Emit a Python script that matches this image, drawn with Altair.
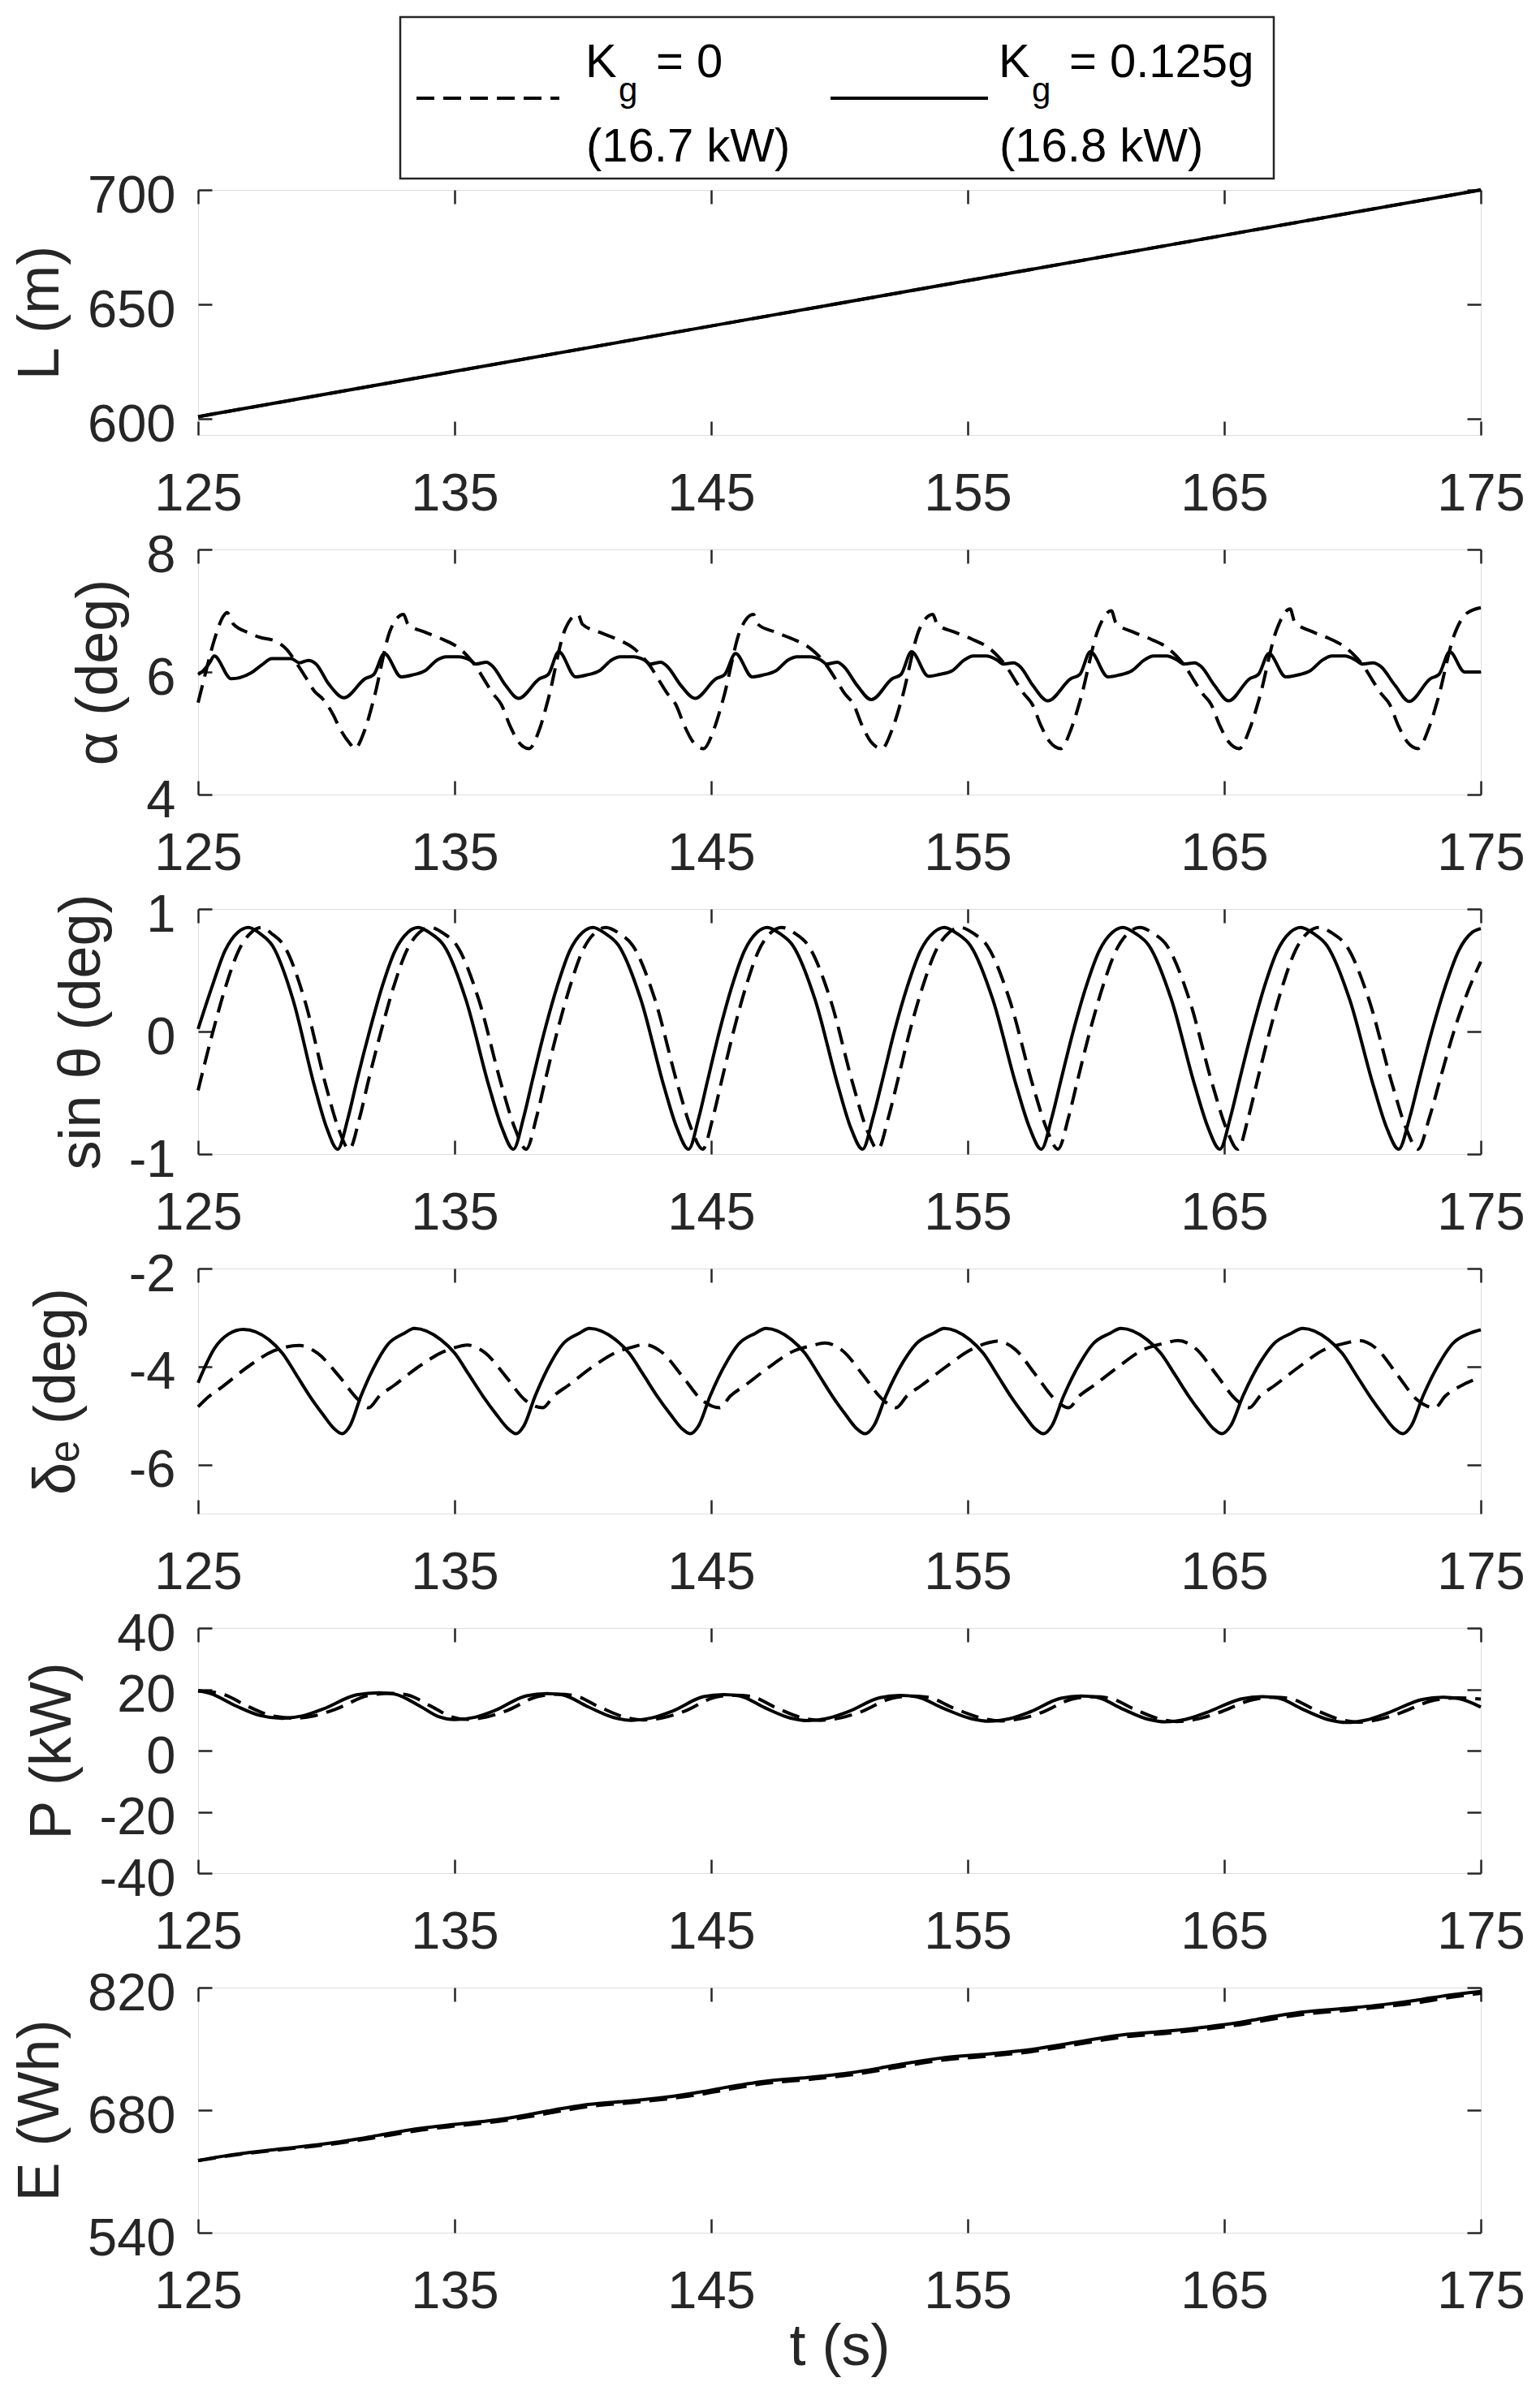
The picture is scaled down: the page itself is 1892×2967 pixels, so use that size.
import altair as alt
import pandas as pd

FONT = "Liberation Sans"
INK = "#262626"
PLOT_W, PLOT_H = 1580, 302
TICK_LEN = 17
LINE_W = 4
DASH = [22, 11]

T_RANGE = [125, 175]
T_TICKS = [125, 135, 145, 155, 165, 175]

# ---------------- data: (t [s], value) ----------------
L_K0 = [(125, 601), (135, 620.8), (145, 640.6), (155, 660.4), (165, 680.2), (175, 700)]
L_K125 = [(125, 601), (135, 620.8), (145, 640.6), (155, 660.4), (165, 680.2), (175, 700)]

ALPHA_K0 = [
    (125.0, 5.5), (125.3, 6.0), (125.63, 6.52), (126.0, 6.92), (126.13, 6.97), (126.38, 6.78), (127.04, 6.63),
    (127.37, 6.57), (128.03, 6.5), (128.45, 6.37), (128.86, 6.13), (129.2, 5.91), (129.53, 5.69), (129.86, 5.56),
    (130.27, 5.3), (130.52, 5.08), (130.94, 4.82), (131.1, 4.75),
    (131.52, 5.08), (131.85, 5.56), (132.51, 6.7), (133.01, 6.94), (133.18, 6.78), (133.84, 6.65), (134.5, 6.54),
    (135.17, 6.39), (135.5, 6.26), (135.83, 6.09), (136.16, 5.87), (136.49, 5.65), (136.82, 5.47), (137.16, 5.12),
    (137.49, 4.86), (137.9, 4.75),
    (138.32, 5.08), (138.65, 5.56), (139.31, 6.7), (139.81, 6.94), (139.98, 6.78), (140.64, 6.65), (141.3, 6.54),
    (141.97, 6.39), (142.3, 6.26), (142.63, 6.09), (142.96, 5.87), (143.29, 5.65), (143.62, 5.47), (143.96, 5.12),
    (144.29, 4.86), (144.7, 4.75),
    (145.12, 5.08), (145.47, 5.56), (146.15, 6.7), (146.65, 6.94), (146.82, 6.78), (147.5, 6.65), (148.17, 6.54),
    (148.85, 6.39), (149.2, 6.26), (149.53, 6.09), (149.87, 5.87), (150.2, 5.65), (150.55, 5.47), (150.89, 5.12),
    (151.23, 4.86), (151.65, 4.75),
    (152.07, 5.08), (152.43, 5.56), (153.12, 6.7), (153.64, 6.94), (153.81, 6.78), (154.49, 6.65), (155.15, 6.54),
    (155.83, 6.39), (156.17, 6.26), (156.51, 6.09), (156.84, 5.87), (157.18, 5.65), (157.52, 5.47), (157.86, 5.12),
    (158.2, 4.86), (158.62, 4.75),
    (159.04, 5.08), (159.4, 5.56), (160.09, 6.7), (160.6, 7.0), (160.78, 6.8), (161.46, 6.65), (162.12, 6.54),
    (162.8, 6.39), (163.14, 6.26), (163.48, 6.09), (163.81, 5.87), (164.15, 5.65), (164.49, 5.47), (164.83, 5.12),
    (165.17, 4.86), (165.58, 4.75),
    (166.0, 5.08), (166.36, 5.56), (167.05, 6.7), (167.57, 7.03), (167.74, 6.82), (168.42, 6.66), (169.08, 6.55),
    (169.76, 6.39), (170.1, 6.26), (170.44, 6.09), (170.77, 5.87), (171.11, 5.65), (171.45, 5.47), (171.79, 5.12),
    (172.13, 4.86), (172.55, 4.75),
    (172.97, 5.08), (173.33, 5.56), (173.96, 6.6), (174.46, 6.96), (175.0, 7.05),
]
ALPHA_K125 = [
    (125.0, 5.96), (125.2, 6.02), (125.45, 6.15), (125.63, 6.26), (126.29, 5.89), (127.04, 5.98), (127.5, 6.12),
    (127.87, 6.22), (128.62, 6.22), (128.95, 6.15), (129.3, 6.19), (129.6, 6.13), (130.1, 5.8), (130.69, 5.58),
    (131.51, 5.89), (131.85, 5.96), (132.26, 6.3), (132.92, 5.92), (133.34, 5.95), (133.84, 6.02), (134.33, 6.2),
    (134.67, 6.25), (135.16, 6.25), (135.58, 6.2), (135.83, 6.13), (136.24, 6.16), (136.49, 6.09), (136.99, 5.78),
    (137.49, 5.57),
    (138.31, 5.89), (138.65, 5.96), (139.06, 6.33), (139.72, 5.92), (140.14, 5.95), (140.64, 6.02), (141.13, 6.2),
    (141.47, 6.25), (141.96, 6.25), (142.38, 6.2), (142.63, 6.13), (143.04, 6.16), (143.29, 6.09), (143.82, 5.78),
    (144.37, 5.57),
    (145.19, 5.89), (145.53, 5.96), (145.95, 6.3), (146.6, 5.92), (147.02, 5.95), (147.52, 6.02), (148.01, 6.2),
    (148.35, 6.25), (148.84, 6.25), (149.26, 6.2), (149.51, 6.13), (149.92, 6.16), (150.17, 6.09), (150.69, 5.78),
    (151.24, 5.55),
    (152.06, 5.89), (152.4, 5.96), (152.81, 6.33), (153.47, 5.93), (153.89, 5.96), (154.39, 6.02), (154.88, 6.2),
    (155.22, 6.26), (155.71, 6.26), (156.13, 6.2), (156.38, 6.13), (156.79, 6.15), (157.04, 6.09), (157.54, 5.78),
    (158.12, 5.53),
    (159.02, 5.89), (159.37, 5.96), (159.78, 6.33), (160.47, 5.92), (160.9, 5.95), (161.4, 6.02), (161.9, 6.2),
    (162.25, 6.26), (162.75, 6.26), (163.15, 6.2), (163.42, 6.13), (163.85, 6.15), (164.1, 6.09), (164.62, 5.78),
    (165.17, 5.53),
    (165.99, 5.89), (166.33, 5.96), (166.74, 6.3), (167.4, 5.92), (167.85, 5.95), (168.35, 6.02), (168.85, 6.2),
    (169.2, 6.26), (169.7, 6.26), (170.1, 6.2), (170.38, 6.13), (170.8, 6.15), (171.1, 6.09), (171.66, 5.78),
    (172.21, 5.52),
    (173.03, 5.89), (173.37, 5.96), (173.79, 6.33), (174.37, 6.0), (175.0, 6.0),
]

SIN_K0 = [
    (125.0, -0.48), (125.58, 0.0), (126.08, 0.37), (126.58, 0.66), (127.08, 0.81), (127.49, 0.85),
    (127.86, 0.80), (128.35, 0.70), (129.15, 0.26), (129.98, -0.44), (130.47, -0.79), (130.89, -0.96),
    (131.3, -0.70), (131.64, -0.40), (132.13, 0.0), (132.63, 0.37), (133.13, 0.66), (133.63, 0.81), (134.04, 0.85),
    (134.57, 0.80), (135.09, 0.70), (135.94, 0.26), (136.83, -0.44), (137.35, -0.79), (137.79, -0.96),
    (138.19, -0.70), (138.53, -0.40), (139.0, 0.0), (139.5, 0.37), (139.99, 0.66), (140.49, 0.81), (140.89, 0.85),
    (141.42, 0.80), (141.95, 0.70), (142.81, 0.26), (143.7, -0.44), (144.22, -0.79), (144.67, -0.96),
    (145.07, -0.70), (145.41, -0.40), (145.87, 0.0), (146.36, 0.37), (146.85, 0.66), (147.34, 0.81), (147.74, 0.85),
    (148.27, 0.80), (148.79, 0.70), (149.65, 0.26), (150.54, -0.44), (151.05, -0.79), (151.5, -0.96),
    (151.91, -0.70), (152.27, -0.40), (152.74, 0.0), (153.25, 0.37), (153.76, 0.66), (154.28, 0.81), (154.69, 0.85),
    (155.23, 0.80), (155.76, 0.70), (156.63, 0.26), (157.54, -0.44), (158.07, -0.79), (158.52, -0.96),
    (158.93, -0.70), (159.28, -0.40), (159.76, 0.0), (160.27, 0.37), (160.78, 0.66), (161.29, 0.81), (161.7, 0.85),
    (162.24, 0.80), (162.77, 0.70), (163.64, 0.26), (164.55, -0.44), (165.08, -0.79), (165.53, -0.96),
    (165.94, -0.70), (166.29, -0.40), (166.77, 0.0), (167.27, 0.37), (167.77, 0.66), (168.27, 0.81), (168.68, 0.85),
    (169.23, 0.80), (169.76, 0.70), (170.64, 0.26), (171.56, -0.44), (172.09, -0.79), (172.55, -0.96),
    (173.0, -0.70), (173.4, -0.40), (173.95, 0.0), (174.5, 0.33), (175.0, 0.57),
]
SIN_K125 = [
    (125.0, 0.02), (125.55, 0.37), (126.05, 0.66), (126.55, 0.81), (126.96, 0.85),
    (127.41, 0.80), (127.9, 0.70), (128.7, 0.26), (129.53, -0.44), (130.02, -0.79), (130.44, -0.96),
    (130.85, -0.70), (131.19, -0.40), (131.68, 0.0), (132.18, 0.37), (132.68, 0.66), (133.18, 0.81), (133.59, 0.85),
    (134.07, 0.80), (134.59, 0.70), (135.44, 0.26), (136.33, -0.44), (136.85, -0.79), (137.29, -0.96),
    (137.69, -0.70), (138.03, -0.40), (138.5, 0.0), (139.0, 0.37), (139.49, 0.66), (139.99, 0.81), (140.39, 0.85),
    (140.87, 0.80), (141.4, 0.70), (142.26, 0.26), (143.15, -0.44), (143.67, -0.79), (144.12, -0.96),
    (144.52, -0.70), (144.86, -0.40), (145.32, 0.0), (145.81, 0.37), (146.3, 0.66), (146.79, 0.81), (147.19, 0.85),
    (147.67, 0.80), (148.19, 0.70), (149.05, 0.26), (149.94, -0.44), (150.45, -0.79), (150.9, -0.96),
    (151.31, -0.70), (151.67, -0.40), (152.14, 0.0), (152.65, 0.37), (153.16, 0.66), (153.68, 0.81), (154.09, 0.85),
    (154.58, 0.80), (155.11, 0.70), (155.98, 0.26), (156.89, -0.44), (157.42, -0.79), (157.87, -0.96),
    (158.28, -0.70), (158.63, -0.40), (159.11, 0.0), (159.62, 0.37), (160.13, 0.66), (160.64, 0.81), (161.05, 0.85),
    (161.54, 0.80), (162.07, 0.70), (162.94, 0.26), (163.85, -0.44), (164.38, -0.79), (164.83, -0.96),
    (165.24, -0.70), (165.59, -0.40), (166.07, 0.0), (166.57, 0.37), (167.07, 0.66), (167.57, 0.81), (167.98, 0.85),
    (168.48, 0.80), (169.01, 0.70), (169.89, 0.26), (170.81, -0.44), (171.34, -0.79), (171.8, -0.96),
    (172.23, -0.70), (172.59, -0.40), (173.09, 0.0), (173.62, 0.37), (174.14, 0.66), (174.67, 0.81), (175.0, 0.84),
]

DELTA_K0 = [
    (125.0, -4.82), (125.4, -4.62), (125.95, -4.41), (126.9, -4.02), (127.95, -3.68), (128.95, -3.57),
    (129.66, -3.73), (130.5, -4.2), (131.25, -4.68), (131.65, -4.84),
    (132.07, -4.6), (132.65, -4.38), (133.55, -4.02), (134.55, -3.7), (135.1, -3.6), (135.49, -3.56),
    (136.19, -3.72), (136.99, -4.2), (137.74, -4.68), (138.44, -4.84),
    (138.86, -4.6), (139.44, -4.38), (140.34, -4.02), (141.34, -3.7), (141.95, -3.6), (142.38, -3.55),
    (143.08, -3.71), (143.88, -4.2), (144.63, -4.68), (145.33, -4.84),
    (145.75, -4.6), (146.33, -4.38), (147.23, -4.02), (148.23, -3.68), (148.95, -3.57), (149.43, -3.52),
    (150.13, -3.68), (150.93, -4.18), (151.68, -4.67), (152.21, -4.84),
    (152.63, -4.6), (153.21, -4.38), (154.11, -4.02), (155.11, -3.66), (155.7, -3.53), (156.15, -3.48),
    (156.85, -3.65), (157.65, -4.17), (158.4, -4.67), (158.93, -4.84),
    (159.35, -4.6), (159.93, -4.38), (160.83, -4.02), (161.83, -3.66), (162.7, -3.52), (163.2, -3.47),
    (163.9, -3.64), (164.7, -4.17), (165.45, -4.67), (165.98, -4.84),
    (166.4, -4.6), (166.98, -4.38), (167.88, -4.02), (168.88, -3.66), (169.75, -3.52), (170.25, -3.47),
    (170.95, -3.64), (171.75, -4.17), (172.5, -4.67), (173.2, -4.84),
    (173.62, -4.6), (174.2, -4.4), (175.0, -4.22),
]
DELTA_K125 = [
    (125.0, -4.33), (125.65, -3.62), (126.18, -3.34), (126.76, -3.24),
    (127.76, -3.45), (128.29, -3.73), (128.82, -4.16), (129.35, -4.6), (129.87, -4.98), (130.29, -5.26), (130.61, -5.37),
    (130.93, -5.2), (131.35, -4.6), (131.98, -3.89), (132.41, -3.54), (133.04, -3.32), (133.43, -3.22),
    (134.46, -3.45), (135.01, -3.73), (135.55, -4.16), (136.1, -4.6), (136.63, -4.98), (137.07, -5.26), (137.39, -5.37),
    (137.71, -5.2), (138.14, -4.6), (138.78, -3.89), (139.22, -3.54), (139.86, -3.32), (140.25, -3.22),
    (141.27, -3.45), (141.81, -3.73), (142.35, -4.16), (142.89, -4.6), (143.42, -4.98), (143.85, -5.26), (144.18, -5.37),
    (144.52, -5.2), (144.96, -4.6), (145.62, -3.89), (146.07, -3.54), (146.73, -3.32), (147.13, -3.22),
    (148.13, -3.45), (148.66, -3.73), (149.19, -4.16), (149.72, -4.6), (150.24, -4.98), (150.66, -5.26), (151.0, -5.37),
    (151.35, -5.2), (151.81, -4.6), (152.5, -3.89), (152.98, -3.54), (153.67, -3.32), (154.08, -3.22),
    (155.08, -3.45), (155.61, -3.73), (156.14, -4.16), (156.67, -4.6), (157.19, -4.98), (157.61, -5.26), (157.95, -5.37),
    (158.29, -5.2), (158.74, -4.6), (159.42, -3.89), (159.88, -3.54), (160.55, -3.32), (160.97, -3.22),
    (161.99, -3.45), (162.53, -3.73), (163.07, -4.16), (163.61, -4.6), (164.14, -4.98), (164.57, -5.26), (164.9, -5.37),
    (165.26, -5.2), (165.73, -4.6), (166.43, -3.89), (166.92, -3.54), (167.62, -3.32), (168.05, -3.22),
    (169.06, -3.45), (169.6, -3.73), (170.13, -4.16), (170.67, -4.6), (171.19, -4.98), (171.62, -5.26), (171.95, -5.37),
    (172.3, -5.2), (172.75, -4.6), (173.43, -3.89), (173.89, -3.54), (174.57, -3.32), (175.0, -3.25),
]

P_K0 = [
    (125.0, 19.4), (125.5, 19.2), (126.0, 18.3), (127.0, 14.2), (127.9, 11.3), (128.75, 10.6),
    (129.55, 11.4), (130.35, 13.5), (131.65, 18.0), (132.5, 18.7), (133.1, 18.3), (134.1, 14.4), (134.85, 11.1),
    (135.45, 10.2), (136.25, 11.0), (137.05, 13.1), (138.25, 17.7), (139.05, 18.4), (139.65, 18.0), (140.65, 14.2),
    (141.65, 10.9), (142.35, 10.0), (143.15, 10.8), (143.95, 12.8), (145.15, 17.4), (145.95, 18.1), (146.55, 17.7),
    (147.55, 13.9), (148.55, 10.7), (149.25, 9.9), (150.05, 10.7), (150.85, 12.7), (152.05, 17.1), (152.85, 17.8),
    (153.45, 17.4), (154.5, 13.7), (155.6, 10.5), (156.3, 9.7), (157.1, 10.5), (157.9, 12.5), (159.1, 16.9),
    (159.9, 17.6), (160.5, 17.2), (161.5, 13.5), (162.5, 10.3), (163.15, 9.5), (163.95, 10.3), (164.75, 12.3),
    (166.15, 16.7), (166.95, 17.4), (167.55, 17.0), (168.55, 13.3), (169.55, 10.1), (170.2, 9.3), (171.0, 10.1),
    (171.8, 12.1), (173.2, 16.5), (174.1, 17.2), (175.0, 16.8),
]
P_K125 = [
    (125.0, 19.6), (125.5, 18.6), (126.5, 14.5), (127.4, 11.5), (128.28, 10.55), (129.08, 11.35), (129.88, 13.6),
    (131.18, 18.2), (132.05, 18.9), (132.65, 18.5), (133.65, 14.5), (134.4, 11.0), (135.0, 10.1), (135.8, 10.9),
    (136.6, 13.2), (137.8, 17.9), (138.6, 18.6), (139.2, 18.2), (140.2, 14.3), (141.2, 10.8), (141.89, 9.9),
    (142.69, 10.7), (143.49, 12.9), (144.7, 17.6), (145.49, 18.3), (146.09, 17.9), (147.09, 14.0), (148.1, 10.6),
    (148.77, 9.8), (149.57, 10.6), (150.37, 12.8), (151.58, 17.3), (152.38, 18.0), (152.98, 17.6), (154.05, 13.8),
    (155.15, 10.4), (155.82, 9.6), (156.62, 10.4), (157.42, 12.6), (158.63, 17.1), (159.43, 17.8), (160.03, 17.4),
    (161.03, 13.6), (162.05, 10.2), (162.7, 9.4), (163.5, 10.2), (164.3, 12.4), (165.68, 16.9), (166.48, 17.6),
    (167.08, 17.2), (168.08, 13.4), (169.1, 10.0), (169.75, 9.2), (170.55, 10.0), (171.35, 12.2), (172.72, 16.7),
    (173.52, 17.4), (174.12, 17.0), (175.0, 14.2),
]

E_K0 = [
    (125.0, 622.3), (126.5, 629.0), (128.28, 635.0), (129.88, 640.0), (131.18, 645.2), (132.05, 649.3),
    (133.65, 657.0), (135.0, 661.8), (136.6, 666.8), (137.8, 672.0), (138.6, 676.2), (140.2, 684.0), (141.89, 688.6),
    (143.49, 693.5), (144.7, 698.6), (145.49, 702.8), (147.09, 710.5), (148.77, 715.0), (150.37, 720.0),
    (151.58, 725.4), (152.38, 729.6), (154.05, 737.2), (155.82, 741.8), (157.42, 746.6), (158.63, 751.9),
    (159.43, 755.9), (161.03, 763.4), (162.7, 767.7), (164.3, 772.6), (165.68, 777.9), (166.48, 782.0),
    (168.08, 789.5), (169.75, 793.9), (171.35, 798.6), (172.72, 803.6), (173.52, 807.6), (175.0, 813.5),
]
E_K125 = [
    (125.0, 622.5), (126.5, 629.8), (128.28, 636.0), (129.88, 641.2), (131.18, 646.9), (132.05, 651.4),
    (133.65, 659.2), (135.0, 663.7), (136.6, 668.8), (137.8, 674.5), (138.6, 678.8), (140.2, 686.4), (141.89, 690.7),
    (143.49, 695.8), (144.7, 701.3), (145.49, 705.6), (147.09, 713.0), (148.77, 717.3), (150.37, 722.4),
    (151.58, 728.1), (152.38, 732.4), (154.05, 739.9), (155.82, 744.2), (157.42, 749.1), (158.63, 754.6),
    (159.43, 758.7), (161.03, 766.0), (162.7, 770.1), (164.3, 775.1), (165.68, 780.6), (166.48, 784.8),
    (168.08, 792.1), (169.75, 796.3), (171.35, 801.1), (172.72, 806.6), (173.52, 810.4), (175.0, 815.5),
]

Y_TITLES = ["L (m)", "α (deg)", "sin θ (deg)", "δₑ (deg)", "P (kW)", "E (Wh)"]
Y_DOMAINS = [[593, 700], [4, 8], [-1, 1], [-7, -2], [-40, 40], [540, 820]]
Y_TICKS = [[600, 650, 700], [4, 6, 8], [-1, 0, 1], [-6, -4, -2], [-40, -20, 0, 20, 40], [540, 680, 820]]
X_TITLE = "t (s)"

LEGEND_MAIN = ["K", "K"]
LEGEND_SUB = ["g", "g"]
LEGEND_EQ = ["= 0", "= 0.125g"]
LEGEND_POWER = ["(16.7 kW)", "(16.8 kW)"]

NEG_EXPR = "datum.value < 0 ? '-' + format(-datum.value, 'd') : format(datum.value, 'd')"


def frame(pairs):
    return pd.DataFrame(pairs, columns=["t", "v"])


def legend_layers():
    one = pd.DataFrame({"k": [0]})
    layers = [
        alt.Chart(one).mark_rect(fill="white", stroke=INK, strokeWidth=2.5).encode(
            x=alt.value(249), x2=alt.value(1325), y=alt.value(-213), y2=alt.value(-14)),
        alt.Chart(one).mark_rule(color="black", strokeWidth=LINE_W, strokeDash=DASH).encode(
            x=alt.value(269), x2=alt.value(445), y=alt.value(-113)),
        alt.Chart(one).mark_rule(color="black", strokeWidth=LINE_W).encode(
            x=alt.value(779), x2=alt.value(973), y=alt.value(-113)),
    ]
    starts = [477, 986]
    for i, x0 in enumerate(starts):
        big = dict(align="left", baseline="alphabetic", font=FONT, fontSize=58, color="black")
        layers.append(alt.Chart(one).mark_text(text=LEGEND_MAIN[i], **big).encode(
            x=alt.value(x0), y=alt.value(-139)))
        layers.append(alt.Chart(one).mark_text(text=LEGEND_SUB[i], align="left", baseline="alphabetic",
                                               font=FONT, fontSize=42, color="black").encode(
            x=alt.value(x0 + 41), y=alt.value(-109)))
        layers.append(alt.Chart(one).mark_text(text=LEGEND_EQ[i], **big).encode(
            x=alt.value(x0 + 87), y=alt.value(-139)))
        layers.append(alt.Chart(one).mark_text(text=LEGEND_POWER[i], **big).encode(
            x=alt.value(x0 + 1), y=alt.value(-35)))
    return layers


def panel(k0, k125, idx, interp="monotone", x_title=None, title_pad=21, legend=False):
    xs = alt.Scale(domain=T_RANGE, nice=False, zero=False)
    ys = alt.Scale(domain=Y_DOMAINS[idx], nice=False, zero=False)
    common = dict(offset=-TICK_LEN, tickSize=TICK_LEN, tickWidth=2.5, tickColor=INK, domain=False, grid=False)
    ax_bottom = alt.Axis(orient="bottom", values=T_TICKS, labelFont=FONT, labelFontSize=65, labelColor=INK,
                         labelPadding=41, labelFlush=False, labelOverlap=False, format="d",
                         titleFont=FONT, titleFontSize=72, titleFontWeight="normal", titleColor=INK,
                         titlePadding=0, **common)
    ax_top = alt.Axis(orient="top", values=T_TICKS, labels=False, **common)
    ax_left = alt.Axis(orient="left", values=Y_TICKS[idx], labelFont=FONT, labelFontSize=65, labelColor=INK,
                       labelPadding=28, labelOffset=7, labelExpr=NEG_EXPR, labelOverlap=False, labelFlush=False,
                       titleFont=FONT, titleFontSize=72, titleFontWeight="normal", titleColor=INK,
                       titlePadding=title_pad, **common)
    ax_right = alt.Axis(orient="right", values=Y_TICKS[idx], labels=False, **common)

    x_enc = alt.X("t:Q", scale=xs, axis=ax_bottom, title=x_title)
    dashed = alt.Chart(frame(k0)).mark_line(color="black", strokeWidth=LINE_W, strokeDash=DASH,
                                            interpolate=interp).encode(
        x=x_enc,
        y=alt.Y("v:Q", scale=ys, axis=ax_left, title=Y_TITLES[idx]))
    solid = alt.Chart(frame(k125)).mark_line(color="black", strokeWidth=LINE_W, interpolate=interp).encode(
        x=alt.X("t:Q", scale=xs, axis=ax_top, title=None),
        y=alt.Y("v:Q", scale=ys, axis=ax_right, title=None))
    layers = [dashed, solid]
    if legend:
        layers += legend_layers()
    return alt.layer(*layers).properties(width=PLOT_W, height=PLOT_H).resolve_axis(
        x="independent", y="independent")


panels = [
    panel(L_K0, L_K125, 0, interp="linear", legend=True),
    panel(ALPHA_K0, ALPHA_K125, 1),
    panel(SIN_K0, SIN_K125, 2),
    panel(DELTA_K0, DELTA_K125, 3, title_pad=52),
    panel(P_K0, P_K125, 4),
    panel(E_K0, E_K125, 5, x_title=X_TITLE),
]

chart = alt.vconcat(*panels, spacing=141, bounds="flush",
                    padding={"left": 5, "top": 11, "right": 0, "bottom": 5}).configure_view(
    stroke=INK, strokeWidth=2.5).configure(font=FONT, background="white")

chart.save("out.html", embed_options={"renderer": "svg", "actions": False})
